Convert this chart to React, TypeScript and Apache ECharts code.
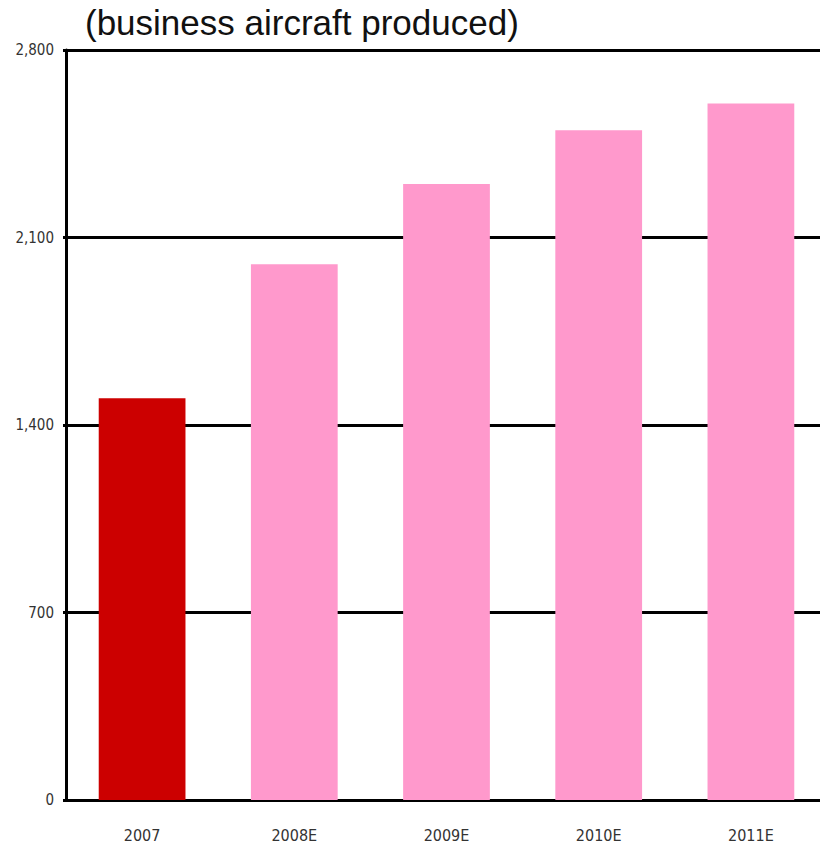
import React, { useEffect, useRef } from "react";
import * as echarts from "echarts";

const categories = ["2007", "2008E", "2009E", "2010E", "2011E"];
const values = [1500, 2000, 2300, 2500, 2600];
const barColors = ["#CC0000", "#FF99CC", "#FF99CC", "#FF99CC", "#FF99CC"];
const yTicks = [0, 700, 1400, 2100, 2800];
const title = "(business aircraft produced)";

export default function App() {
  const ref = useRef<HTMLDivElement>(null);
  useEffect(() => {
    if (!ref.current) return;
    const chart = echarts.init(ref.current, null, { renderer: "svg" });
    const narrow = "'Liberation Sans Narrow', 'DejaVu Sans Condensed', 'Arial Narrow', sans-serif";
    chart.setOption({
      animation: false,
      backgroundColor: "#ffffff",
      title: {
        text: title,
        left: 80,
        top: 0,
        textStyle: {
          fontFamily: "'Liberation Sans', Arial, sans-serif",
          fontSize: 35,
          fontWeight: "normal",
          color: "#111111",
        },
      },
      grid: {
        left: 66,
        top: 50,
        right: -7,
        bottom: 49,
        containLabel: false,
        outerBoundsMode: "none",
      },
      xAxis: {
        type: "category",
        data: categories,
        axisLine: { show: true, lineStyle: { color: "#000", width: 3 } },
        axisTick: { show: false },
        axisLabel: {
          margin: 27,
          fontFamily: narrow,
          fontSize: 16,
          color: "#333333",
        },
      },
      yAxis: {
        type: "value",
        min: yTicks[0],
        max: yTicks[yTicks.length - 1],
        interval: 700,
        axisLine: { show: true, lineStyle: { color: "#000", width: 3 } },
        axisTick: { show: true, length: 3, lineStyle: { color: "#000", width: 3 } },
        splitLine: { show: true, lineStyle: { color: "#000", width: 3 } },
        axisLabel: {
          margin: 12,
          fontFamily: narrow,
          fontSize: 15,
          color: "#333333",
          formatter: (v: number) => v.toLocaleString("en-US"),
        },
      },
      series: [
        {
          type: "bar",
          barWidth: "57%",
          data: values.map((v, i) => ({ value: v, itemStyle: { color: barColors[i] } })),
        },
      ],
    });
    return () => chart.dispose();
  }, []);
  return (
    <div
      ref={ref}
      style={{ position: "fixed", left: 0, top: 0, width: 820, height: 849 }}
    />
  );
}
